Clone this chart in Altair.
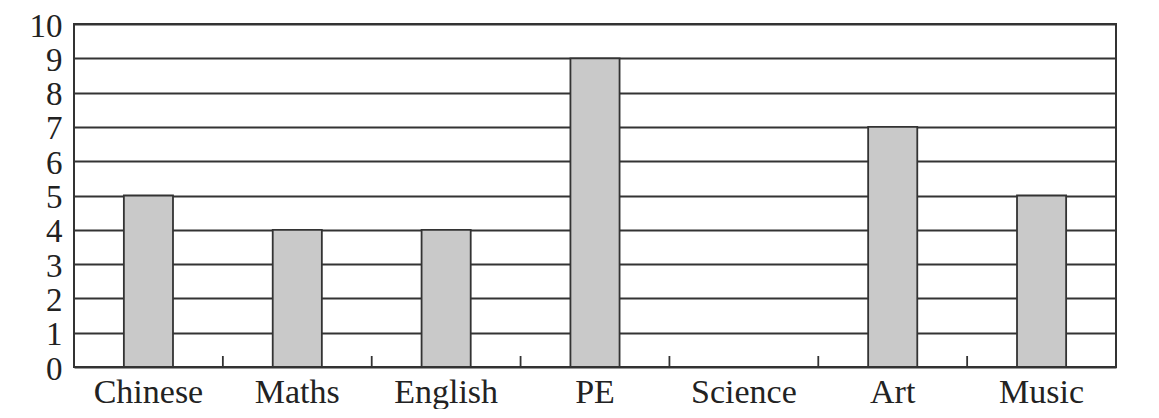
import altair as alt
import pandas as pd

subjects = ["Chinese", "Maths", "English", "PE", "Science", "Art", "Music"]
counts = [5, 4, 4, 9, 0, 7, 5]
y_ticks = list(range(0, 11))

df = pd.DataFrame({"subject": subjects, "count": counts})

W, H = 1042, 343
FONT = "Liberation Serif"
P_IN = 0.67
STEP = W / len(subjects)

xscale = alt.Scale(domain=subjects, paddingInner=P_IN, paddingOuter=P_IN / 2)
yscale = alt.Scale(domain=[0, 10], nice=False)

xaxis = alt.Axis(title=None, labelAngle=0, labelFont=FONT, labelFontSize=34,
                 labelColor="#222222", ticks=False, domain=False, labelPadding=8)

bars = alt.Chart(df).mark_bar(fill="#c9c9c9", stroke="#333333", strokeWidth=1.8).encode(
    x=alt.X("subject:N", scale=xscale, axis=xaxis),
    y=alt.Y("count:Q", scale=yscale,
            axis=alt.Axis(values=y_ticks, title=None, grid=True, gridColor="#333333",
                          gridWidth=1.8, ticks=False, domain=False, labelFont=FONT,
                          labelFontSize=33, labelPadding=12, labelColor="#222222",
                          labelOffset=2)),
)

ticks = alt.Chart(df).transform_filter(
    alt.datum.subject != subjects[0]
).mark_rule(color="#333333", strokeWidth=1.8, xOffset=-(P_IN / 2) * STEP).encode(
    x=alt.X("subject:N", scale=xscale, bandPosition=0, axis=xaxis),
    y=alt.value(H),
    y2=alt.value(H - 11),
)

chart = alt.layer(bars, ticks).properties(
    width=W, height=H,
    autosize=alt.AutoSizeParams(type="none"),
    padding={"left": 66, "top": 16, "right": 30, "bottom": 42},
).configure_view(stroke="#333333", strokeWidth=2)

chart.save("out.html", embed_options={"renderer": "svg", "actions": False})
